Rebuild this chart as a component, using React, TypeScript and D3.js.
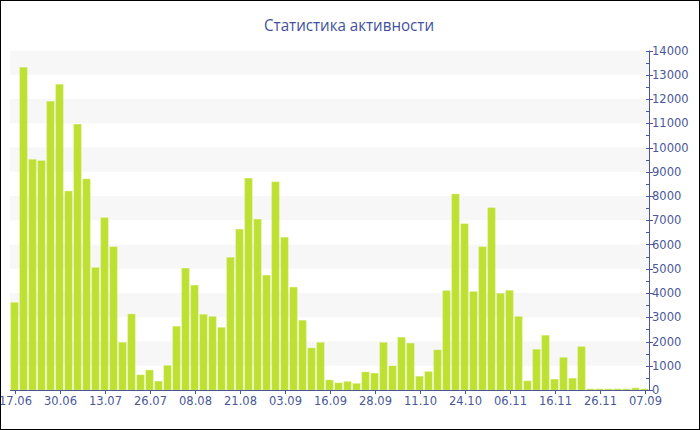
import React from "react";
import * as d3 from "d3";

const chartTitle = "Статистика активности";

const values: number[] = [
  3600, 13300, 9500, 9450, 11900, 12600, 8200, 10960, 8700, 5040,
  7100, 5900, 1960, 3130, 620, 820, 360, 1000, 2620, 5020,
  4320, 3110, 3020, 2570, 5460, 6630, 8730, 7040, 4730, 8580,
  6290, 4240, 2870, 1730, 1950, 410, 290, 340, 260, 740,
  690, 1950, 990, 2170, 1930, 560, 750, 1650, 4090, 8080,
  6850, 4050, 5900, 7510, 3980, 4100, 3020, 370, 1670, 2250,
  440, 1330, 480, 1780, 40, 40, 40, 40, 40, 80,
  40,
];

const tickLabels: string[] = [
  "17.06", "30.06", "13.07", "26.07", "08.08", "21.08", "03.09", "16.09",
  "28.09", "11.10", "24.10", "06.11", "16.11", "26.11", "07.09",
];
const tickEvery = 5;

const yMax = 14000;
const yStep = 1000;

const W = 700;
const H = 430;
const left = 10;
const right = 649;
const top = 50.5;
const bottom = 390;

const axisColor = "#4a5899";
const barColor = "#bee032";
const stripeColor = "#f7f7f7";
const font = "'DejaVu Sans', Verdana, sans-serif";
const titleFont = "'Open Sans', 'Noto Sans', sans-serif";

export default function App() {
  const idx = values.map((_, i) => i);
  const x = d3.scaleBand<number>().domain(idx).range([left, right]).paddingInner(0.2).paddingOuter(0.1);
  const y = d3.scaleLinear().domain([0, yMax]).range([bottom, top]);
  const majors = d3.range(0, yMax + 1, yStep);
  const minors = d3.range(yStep / 2, yMax, yStep);
  const stripes = majors.filter((v) => v < yMax && Math.round(v / yStep) % 2 === 1);

  return (
    <svg width={W} height={H} style={{ position: "absolute", left: 0, top: 0, display: "block" }}>
      <rect x={0} y={0} width={W} height={H} fill="#fff" />
      {stripes.map((v) => (
        <rect key={"s" + v} x={left} y={y(v + yStep)} width={right - left} height={y(v) - y(v + yStep)} fill={stripeColor} />
      ))}
      {values.map((v, i) => (
        <rect key={"b" + i} x={x(i)} y={y(v)} width={x.bandwidth()} height={bottom - y(v)} fill={barColor} stroke="#cbe85e" strokeWidth={0.5} />
      ))}
      {/* x axis */}
      <line x1={left} x2={right} y1={bottom + 0.5} y2={bottom + 0.5} stroke={axisColor} />
      {tickLabels.map((t, k) => {
        const cx = Math.round((x(k * tickEvery) as number) + x.bandwidth() / 2) + 0.5;
        return (
          <g key={"xt" + k}>
            <line x1={cx} x2={cx} y1={bottom} y2={bottom + 4} stroke={axisColor} />
            <text x={cx} y={bottom + 15} textAnchor="middle" fontFamily={font} fontSize={11.5} fill={axisColor}>
              {t}
            </text>
          </g>
        );
      })}
      {/* y axis */}
      <line x1={right + 0.5} x2={right + 0.5} y1={top} y2={bottom + 1} stroke={axisColor} />
      {minors.map((v) => (
        <line key={"mn" + v} x1={right - 3} x2={right} y1={Math.round(y(v)) + 0.5} y2={Math.round(y(v)) + 0.5} stroke={axisColor} />
      ))}
      {majors.map((v) => (
        <g key={"mj" + v}>
          <line x1={right - 3} x2={right + 4} y1={Math.round(y(v)) + 0.5} y2={Math.round(y(v)) + 0.5} stroke={axisColor} />
          <text x={right + 3} y={y(v)} dy="0.35em" fontFamily={font} fontSize={11.5} fill={axisColor}>
            {v}
          </text>
        </g>
      ))}
      <text x={349} y={31} textAnchor="middle" fontFamily={titleFont} fontSize={17} fill="#3f51a0" textLength={170} lengthAdjust="spacingAndGlyphs">
        {chartTitle}
      </text>
      <rect x={0.5} y={0.5} width={W - 1} height={H - 1} fill="none" stroke="#000" />
    </svg>
  );
}
